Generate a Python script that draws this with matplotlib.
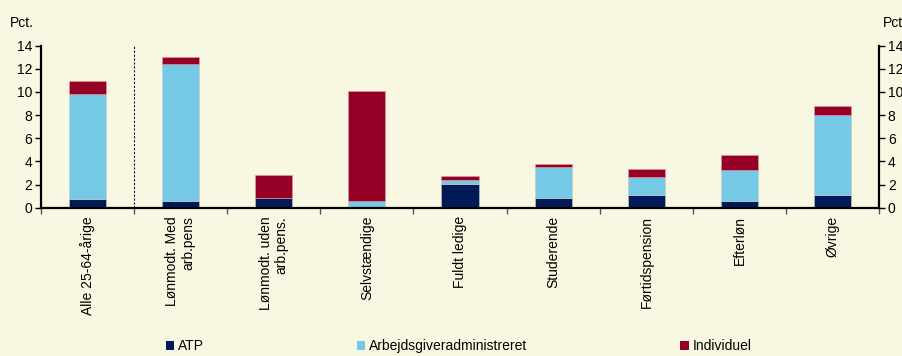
import matplotlib
matplotlib.use("Agg")
import matplotlib.pyplot as plt
import numpy as np
from matplotlib.patches import Patch

categories = ["Alle 25-64-årige", "Lønmodt. Med\narb.pens", "Lønmodt. uden\narb.pens.",
              "Selvstændige", "Fuldt ledige", "Studerende", "Førtidspension", "Efterløn", "Øvrige"]
atp = [0.73, 0.60, 0.80, 0.00, 2.07, 0.80, 1.12, 0.60, 1.07]
arbejdsgiver = [9.12, 11.85, 0.00, 0.55, 0.32, 2.70, 1.50, 2.68, 6.94]
individuel = [1.10, 0.60, 2.03, 9.50, 0.35, 0.25, 0.75, 1.30, 0.78]
series_names = ["ATP", "Arbejdsgiveradministreret", "Individuel"]
yticks = [0, 2, 4, 6, 8, 10, 12, 14]

bg = "#F8F8E2"
colors = ["#001A57", "#75C8E6", "#960028"]

plt.rcParams["font.family"] = ["Liberation Sans", "DejaVu Sans"]
fig = plt.figure(figsize=(9.03, 3.56), dpi=100, facecolor=bg)
ax = fig.add_axes([0.045, 0.4166, 0.9289, 0.455], facecolor=bg)

x = np.arange(len(categories))
a = np.array(atp); b = np.array(arbejdsgiver); c = np.array(individuel)
w = 0.4
ax.bar(x, a, w, color=colors[0], edgecolor="#c8c8c8", linewidth=0.4)
ax.bar(x, b, w, bottom=a, color=colors[1], edgecolor="#c8c8c8", linewidth=0.4)
ax.bar(x, c, w, bottom=a + b, color=colors[2], edgecolor="#e0a0a0", linewidth=0.4)

ax.set_xlim(-0.5, len(categories) - 0.5)
ax.set_ylim(0, 14)
ax.set_yticks(yticks)
ax.tick_params(axis="y", labelsize=10, length=4, width=1, direction="out",
               left=True, right=True, labelleft=True, labelright=True, pad=2)
ax.set_xticks(x)
ax.set_xticklabels(categories, rotation=90, fontsize=10, va="top", ha="center",
                   multialignment="right")
ax.tick_params(axis="x", which="major", length=0, pad=6)
ax.set_xticks(np.arange(-0.5, len(categories) + 0.5, 1), minor=True)
ax.tick_params(axis="x", which="minor", length=4, width=1, direction="out", color="#555555")

for s in ["left", "right", "bottom"]:
    ax.spines[s].set_linewidth(1.6)
ax.spines["top"].set_visible(False)

ax.vlines(0.5, 0, 14.1, colors="#001A57", linestyles=(0, (2, 1.5)), linewidth=0.8, clip_on=False)

fig.text(0.011, 0.935, "Pct.", fontsize=10, ha="left", va="center")
fig.text(0.978, 0.935, "Pct.", fontsize=10, ha="left", va="center")

handles = [Patch(facecolor=col, edgecolor="none") for col in colors]
fig.legend(handles, series_names, loc="center", bbox_to_anchor=(0.508, 0.027), ncol=3,
           frameon=False, fontsize=10, handlelength=0.6, handleheight=0.6,
           handletextpad=0.3, columnspacing=11.0, borderpad=0)

fig.savefig("out.png", dpi=100, facecolor=bg)
